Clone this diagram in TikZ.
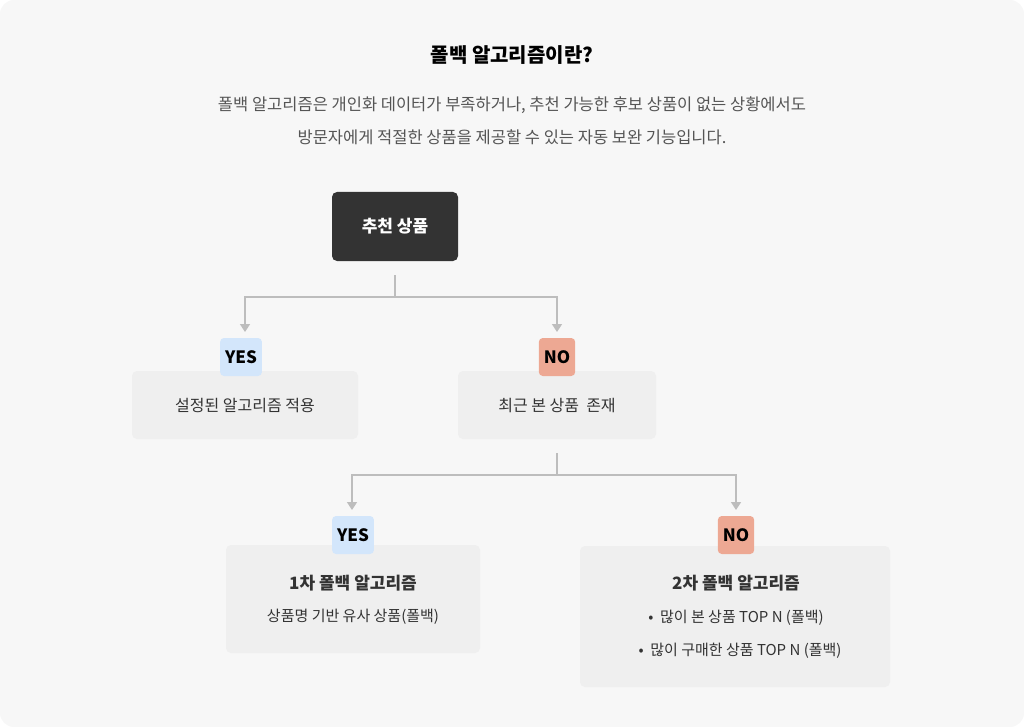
\documentclass[tikz,border=0pt]{standalone}
\usepackage{fontspec}
\setmainfont{Noto Sans CJK KR}
\usetikzlibrary{arrows.meta}
\definecolor{bg}{HTML}{F7F7F7}
\definecolor{boxg}{HTML}{EFEFEF}
\definecolor{dark}{HTML}{333333}
\definecolor{yesc}{HTML}{D3E6FB}
\definecolor{noc}{HTML}{EDA893}
\definecolor{linec}{HTML}{BDBDBD}
\definecolor{txt}{HTML}{333333}
\definecolor{sub}{HTML}{555555}
\begin{document}
\begin{tikzpicture}[x=1pt,y=-1pt,
 card/.style={fill=boxg,rounded corners=5pt,draw=none},
 badge/.style={rounded corners=4pt,minimum height=38pt,inner sep=5pt,font=\fontsize{17}{20}\selectfont\bfseries,text=black},
 conn/.style={draw=linec,line width=1.6pt},
 arr/.style={conn,-{Triangle[length=8pt,width=10pt]}},
 lbl/.style={text=txt,font=\fontsize{16}{20}\selectfont}]
\useasboundingbox (0,0) rectangle (1024,727);
\fill[bg,rounded corners=14pt] (0,0) rectangle (1024,727);
\node[font=\fontsize{20}{24}\selectfont\bfseries,text=black] (title) at (512,55) {폴백 알고리즘이란?};
\node[font=\fontsize{16.5}{20}\selectfont,text=sub] (s1) at (512,105) {폴백 알고리즘은 개인화 데이터가 부족하거나, 추천 가능한 후보 상품이 없는 상황에서도};
\node[font=\fontsize{16.5}{20}\selectfont,text=sub] (s2) at (512,137) {방문자에게 적절한 상품을 제공할 수 있는 자동 보완 기능입니다.};
% top
\fill[dark,rounded corners=5pt] (332,192) rectangle (458,261);
\node[text=white,font=\fontsize{17}{20}\selectfont\bfseries] (top) at (395,226) {추천 상품};
\coordinate (t0) at (395,275);
\coordinate (t1) at (395,297);
\coordinate (tl) at (245,297);
\coordinate (tr) at (557,297);
\coordinate (al) at (245,332);
\coordinate (ar) at (557,332);
\draw[conn] (t0) -- (t1);
\draw[arr] (t1) -- (tl) -- (al);
\draw[arr] (t1) -- (tr) -- (ar);
% level 2
\fill[card] (132,371) rectangle (358,439);
\node[lbl] (b1) at (245,406) {설정된 알고리즘 적용};
\fill[card] (458,371) rectangle (656,439);
\node[lbl] (b2) at (557,406) {최근 본 상품\ \ 존재};
\node[badge,fill=yesc] (y1) at (241,357) {YES};
\node[badge,fill=noc] (n1) at (557,357) {NO};
% connector 2
\coordinate (m0) at (557,453);
\coordinate (m1) at (557,475);
\coordinate (ml) at (352,475);
\coordinate (mr) at (736,475);
\coordinate (bl) at (352,510);
\coordinate (br) at (736,510);
\draw[conn] (m0) -- (m1);
\draw[arr] (m1) -- (ml) -- (bl);
\draw[arr] (m1) -- (mr) -- (br);
% level 3
\fill[card] (226,545) rectangle (480,653);
\node[lbl,font=\fontsize{17}{20}\selectfont\bfseries] (c1) at (353,583) {1차 폴백 알고리즘};
\node[lbl,font=\fontsize{15}{18}\selectfont] (c1b) at (353,617) {상품명 기반 유사 상품(폴백)};
\fill[card] (580,546) rectangle (890,687);
\node[lbl,font=\fontsize{17}{20}\selectfont\bfseries] (c2) at (736,583) {2차 폴백 알고리즘};
\node[lbl,font=\fontsize{15}{18}\selectfont] (c2a) at (736,618) {•\ \ 많이 본 상품 TOP N (폴백)};
\node[lbl,font=\fontsize{15}{18}\selectfont] (c2b) at (740,651) {•\ \ 많이 구매한 상품 TOP N (폴백)};
\node[badge,fill=yesc] (y2) at (353,535) {YES};
\node[badge,fill=noc] (n2) at (736,535) {NO};
\end{tikzpicture}
\end{document}
